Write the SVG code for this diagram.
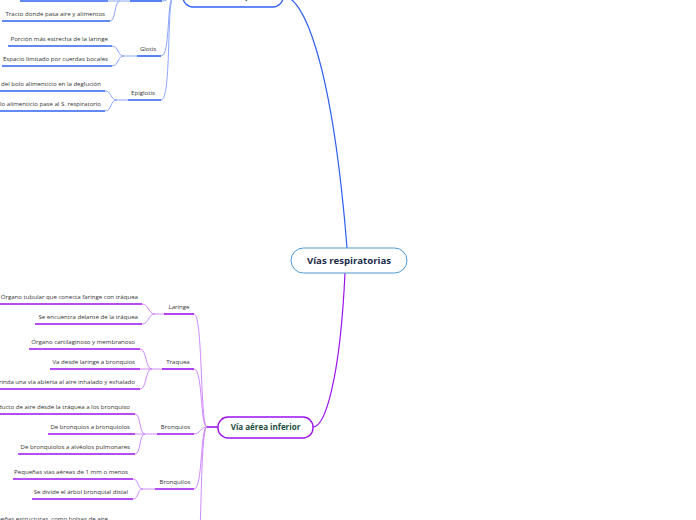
<svg xmlns="http://www.w3.org/2000/svg" width="696" height="520" viewBox="0 0 696 520">
<style>
.leaf{font-family:"Open Sans","Liberation Sans",sans-serif;font-size:6.1px;fill:#333;text-anchor:end}
.plab{font-family:"Open Sans","Liberation Sans",sans-serif;font-size:6.1px;fill:#333;text-anchor:middle}
.bt{stroke:#2f62f2;stroke-width:1.6;fill:none}
.bl{stroke:#7d9cff;stroke-width:0.9;fill:none}
.pt{stroke:#9b12ee;stroke-width:1.6;fill:none}
.pl{stroke:#c77dff;stroke-width:0.9;fill:none}
.mt{font-family:"Open Sans","Liberation Sans",sans-serif;font-weight:bold;text-anchor:middle}
</style>
<g id="connectors">
<path d="M283,-4 C303,-4 332,60 347,248" stroke="#2f62f2" stroke-width="1.2" fill="none"/>
<path d="M345,273 C340,380 325,427 313,427" stroke="#9b12ee" stroke-width="1.2" fill="none"/>
<path class="bl" d="M162,1 C170,1 166,-4 174,-4"/>
<path class="bl" d="M161,56 C171,56 166,-4 174,-4"/>
<path class="bl" d="M161,100 C172,100 166,-4 174,-4"/>
<path class="bt" d="M174,-4 L183,-4"/>
<path class="pl" d="M194,314 C203,314 200,427 207,427"/>
<path class="pl" d="M194,369 C203,369 200,427 207,427"/>
<path class="pl" d="M194,434 C200,434 201,427 207,427"/>
<path class="pl" d="M194,489 C203,489 200,427 207,427"/>
<path class="pl" d="M194,580 C203,580 199,427 207,427"/>
<path class="pt" d="M207,427 L218,427"/>
<path class="bl" d="M110,21 C116,21 114,1 120,1"/>
<path class="bl" d="M108,1 L130,1"/>
<path class="bl" d="M112,46 C119,46 117,56 124,56"/>
<path class="bl" d="M112,66 C119,66 117,56 124,56"/>
<path class="bl" d="M124,56 L137,56"/>
<path class="bl" d="M105,91 C112,91 110,100 117,100"/>
<path class="bl" d="M105,111 C112,111 110,100 117,100"/>
<path class="bl" d="M117,100 L128,100"/>
<path class="pl" d="M142,304 C149,304 148,314 155,314"/>
<path class="pl" d="M142,324 C149,324 148,314 155,314"/>
<path class="pl" d="M155,314 L164,314"/>
<path class="pl" d="M140,349 C147,349 145,369 152,369"/>
<path class="pl" d="M140,369 L152,369"/>
<path class="pl" d="M140,389 C147,389 145,369 152,369"/>
<path class="pl" d="M152,369 L162,369"/>
<path class="pl" d="M135,414 C141,414 139,434 145,434"/>
<path class="pl" d="M135,434 L145,434"/>
<path class="pl" d="M135,454 C141,454 139,434 145,434"/>
<path class="pl" d="M145,434 L157,434"/>
<path class="pl" d="M133,479 C139,479 137,489 143,489"/>
<path class="pl" d="M133,499 C139,499 137,489 143,489"/>
<path class="pl" d="M143,489 L155,489"/>
</g>

<g id="node-root">
<rect x="291" y="248" width="116" height="25" rx="12.5" fill="#fff" stroke="#4a9ad6" stroke-width="1"/>
<text class="mt" x="349" y="264" font-size="9.6" fill="#1b2a4a">Vías respiratorias</text>
</g>

<g id="node-superior">
<rect x="183" y="-14" width="100" height="21" rx="10" fill="#fff" stroke="#2f62f2" stroke-width="1.4"/>
<text class="mt" x="233" y="-1" font-size="8" fill="#1b4d3e">Vía aérea superior</text>
</g>

<g id="node-inferior">
<rect x="218" y="417" width="95" height="21" rx="10" fill="#fff" stroke="#9b12ee" stroke-width="1.4"/>
<text class="mt" x="265.5" y="430" font-size="8" fill="#1b4d3e">Vía aérea inferior</text>
</g>

<g id="node-faringe"><path class="bt" d="M130,1 L162,1"/></g>
<g id="leaf-u1"><path class="bt" d="M20,1 L108,1"/></g>
<g id="leaf-tracto"><path class="bt" d="M2,21 L110,21"/><text class="leaf" x="105" y="16">Tracto donde pasa aire y alimentos</text></g>
<g id="node-glotis"><path class="bt" d="M137,56 L161,56"/><text class="plab" x="148" y="51">Glotis</text></g>
<g id="leaf-porcion"><path class="bt" d="M8,46 L112,46"/><text class="leaf" x="108" y="41">Porción más estrecha de la laringe</text></g>
<g id="leaf-espacio"><path class="bt" d="M2,66 L112,66"/><text class="leaf" x="108" y="61">Espacio limitado por cuerdas bocales</text></g>
<g id="node-epiglotis"><path class="bt" d="M128,100 L161,100"/><text class="plab" x="143" y="95">Epiglotis</text></g>
<g id="leaf-epi1"><path class="bt" d="M0,91 L105,91"/><text class="leaf" x="101" y="86">o del bolo alimenticio en la deglución</text></g>
<g id="leaf-epi2"><path class="bt" d="M0,111 L105,111"/><text class="leaf" x="101" y="106">olo alimenticio pase al S. respiratorio</text></g>

<g id="node-laringe"><path class="pt" d="M164,314 L194,314"/><text class="plab" x="179" y="309">Laringe</text></g>
<g id="leaf-lar1"><path class="pt" d="M0,304 L142,304"/><text class="leaf" x="138" y="299">Órgano tubular que conecta faringe con tráquea</text></g>
<g id="leaf-lar2"><path class="pt" d="M35,324 L142,324"/><text class="leaf" x="138" y="319">Se encuentra delante de la tráquea</text></g>

<g id="node-traquea"><path class="pt" d="M162,369 L194,369"/><text class="plab" x="178" y="364">Traquea</text></g>
<g id="leaf-tra1"><path class="pt" d="M29,349 L140,349"/><text class="leaf" x="135" y="344">Órgano cartilaginoso y membranoso</text></g>
<g id="leaf-tra2"><path class="pt" d="M50,369 L140,369"/><text class="leaf" x="135" y="364">Va desde laringe a bronquios</text></g>
<g id="leaf-tra3"><path class="pt" d="M0,389 L140,389"/><text class="leaf" x="135" y="384">Brinda una vía abierta al aire inhalado y exhalado</text></g>

<g id="node-bronquios"><path class="pt" d="M157,434 L194,434"/><text class="plab" x="175.5" y="429">Bronquios</text></g>
<g id="leaf-bro1"><path class="pt" d="M0,414 L135,414"/><text class="leaf" x="130" y="409">ducto de aire desde la tráquea a los bronquiso</text></g>
<g id="leaf-bro2"><path class="pt" d="M48,434 L135,434"/><text class="leaf" x="130" y="429">De bronquios a bronquiolos</text></g>
<g id="leaf-bro3"><path class="pt" d="M18,454 L135,454"/><text class="leaf" x="130" y="449">De bronquiolos a alvéolos pulmonares</text></g>

<g id="node-bronquilos"><path class="pt" d="M155,489 L194,489"/><text class="plab" x="175" y="484">Bronquilos</text></g>
<g id="leaf-bq1"><path class="pt" d="M13,479 L133,479"/><text class="leaf" x="128" y="474">Pequeñas vías aéreas de 1 mm o menos</text></g>
<g id="leaf-bq2"><path class="pt" d="M32,499 L133,499"/><text class="leaf" x="128" y="494">Se divide el árbol bronquial distal</text></g>

<g id="leaf-alv1"><text class="leaf" x="108" y="521">ueñas estructuras, como bolsas de aire</text></g>
</svg>
